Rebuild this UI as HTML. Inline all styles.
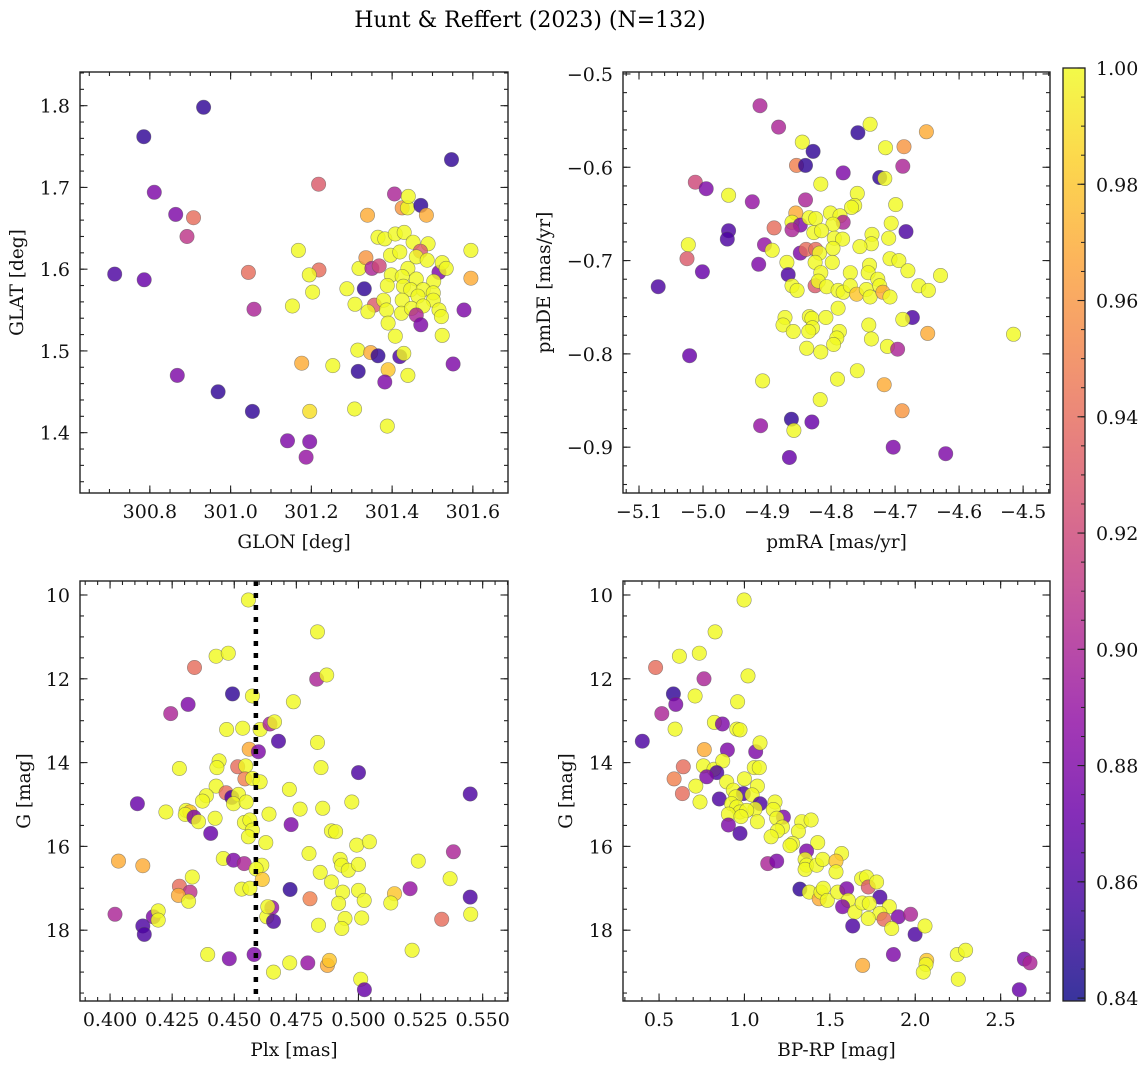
<!DOCTYPE html>
<html><head><meta charset="utf-8"><style>
html,body{margin:0;padding:0;background:#fff;}
svg{display:block;font-family:"DejaVu Serif","Liberation Serif",serif;}
</style></head><body>
<svg id="fig" width="1148" height="1067" viewBox="0 0 1148 1067" xmlns="http://www.w3.org/2000/svg">
<text x="530" y="27" font-size="22" text-anchor="middle" fill="#000">Hunt &amp; Reffert (2023) (N=132)</text>
<g id="panels"></g>
</svg>
<script>
// ---- Panel 1: GLON vs GLAT ----
const glonA = [300.933,300.785,300.811,300.864,300.908,300.892,300.713,300.786,301.044,301.058,300.868,300.969,301.054,301.141,301.196,301.187,301.218,301.219,301.168,301.195,301.203,301.153,301.176,301.196,301.253,301.288,301.307,301.315,301.316,301.308,301.318,301.331,301.339,301.335,301.350,301.368,301.356,301.340,301.365,301.382,301.347,301.365,301.390,301.382,301.388,301.406,301.425,301.438,301.440,301.471,301.485,301.408,301.430,301.452,301.489,301.396,301.419,301.470,301.460,301.439,301.487,301.516,301.524,301.534,301.398,301.425,301.460,301.388,301.428,301.503,301.446,301.477,301.502,301.379,301.425,301.464,301.502,301.386,301.423,301.448,301.477,301.516,301.460,301.471,301.522,301.390,301.408,301.524,301.419,301.429,301.439,301.551,301.578,301.595,301.595,301.547];
const glatA = [1.798,1.762,1.694,1.667,1.663,1.640,1.594,1.587,1.596,1.551,1.470,1.450,1.426,1.390,1.389,1.370,1.704,1.599,1.623,1.593,1.572,1.555,1.485,1.426,1.482,1.576,1.429,1.501,1.475,1.557,1.601,1.576,1.666,1.614,1.601,1.604,1.556,1.548,1.639,1.637,1.498,1.494,1.477,1.462,1.408,1.692,1.675,1.675,1.689,1.678,1.666,1.643,1.645,1.633,1.631,1.617,1.621,1.622,1.615,1.601,1.611,1.596,1.608,1.601,1.593,1.591,1.588,1.580,1.579,1.585,1.575,1.575,1.571,1.562,1.562,1.567,1.562,1.550,1.546,1.552,1.555,1.550,1.544,1.532,1.542,1.534,1.518,1.519,1.493,1.497,1.470,1.484,1.550,1.623,1.589,1.734];
const probA = [0.85,0.85,0.88,0.88,0.94,0.91,0.86,0.87,0.94,0.90,0.88,0.85,0.85,0.88,0.88,0.89,0.93,0.94,1,1,1,1,0.97,0.99,1,1,1,1,0.85,1,1,0.85,0.97,0.96,0.90,0.92,0.93,1,1,1,0.97,0.85,0.98,0.88,1,0.90,0.96,1,1,0.85,0.97,1,1,1,1,1,1,0.93,1,1,1,0.88,1,1,1,1,1,1,1,1,1,1,1,1,1,1,1,1,1,1,1,1,0.90,0.88,1,1,1,1,0.86,1,1,0.88,0.88,1,0.97,0.85];
const ticksAx = [300.8,301.0,301.2,301.4,301.6];
const ticksAy = [1.4,1.5,1.6,1.7,1.8];

// ---- Panel 2: pmRA vs pmDE ----
const pmraB = [-4.911,-4.882,-4.758,-4.739,-4.651,-4.845,-4.828,-4.715,-4.686,-4.854,-4.840,-4.781,-4.724,-4.716,-4.688,-5.012,-4.995,-4.960,-4.923,-4.816,-4.840,-4.759,-4.763,-4.768,-4.699,-4.855,-4.861,-4.848,-4.861,-4.889,-4.834,-4.824,-4.801,-4.786,-4.781,-4.797,-4.827,-4.815,-4.795,-4.782,-4.736,-4.737,-4.706,-4.710,-4.683,-4.960,-4.962,-5.023,-5.025,-5.001,-5.070,-4.904,-4.892,-4.913,-4.869,-4.848,-4.839,-4.824,-4.818,-4.797,-4.755,-4.798,-4.825,-4.816,-4.770,-4.740,-4.742,-4.708,-4.694,-4.680,-4.629,-4.867,-4.861,-4.853,-4.825,-4.820,-4.807,-4.789,-4.781,-4.770,-4.760,-4.745,-4.739,-4.727,-4.724,-4.719,-4.708,-4.663,-4.648,-4.789,-4.673,-4.688,-4.872,-4.875,-4.859,-4.834,-4.830,-4.829,-4.835,-4.808,-4.787,-4.791,-4.796,-4.838,-4.816,-4.741,-4.737,-4.712,-4.696,-4.649,-4.515,-5.021,-4.907,-4.790,-4.759,-4.717,-4.817,-4.689,-4.862,-4.858,-4.830,-4.910,-4.865,-4.703,-4.621];
const pmdeB = [-0.534,-0.557,-0.563,-0.554,-0.562,-0.573,-0.583,-0.579,-0.578,-0.598,-0.598,-0.606,-0.611,-0.612,-0.599,-0.616,-0.623,-0.630,-0.637,-0.618,-0.635,-0.628,-0.641,-0.643,-0.640,-0.649,-0.659,-0.662,-0.667,-0.665,-0.654,-0.655,-0.649,-0.652,-0.659,-0.661,-0.670,-0.668,-0.676,-0.677,-0.672,-0.682,-0.660,-0.676,-0.669,-0.668,-0.677,-0.683,-0.698,-0.712,-0.728,-0.683,-0.689,-0.704,-0.702,-0.692,-0.688,-0.688,-0.692,-0.687,-0.685,-0.702,-0.702,-0.713,-0.713,-0.705,-0.713,-0.698,-0.700,-0.711,-0.716,-0.715,-0.727,-0.732,-0.727,-0.722,-0.728,-0.732,-0.734,-0.727,-0.736,-0.731,-0.739,-0.720,-0.727,-0.734,-0.739,-0.727,-0.732,-0.751,-0.761,-0.763,-0.761,-0.769,-0.776,-0.760,-0.762,-0.772,-0.776,-0.761,-0.776,-0.783,-0.790,-0.794,-0.798,-0.769,-0.784,-0.792,-0.795,-0.778,-0.779,-0.802,-0.829,-0.827,-0.818,-0.833,-0.849,-0.861,-0.870,-0.882,-0.873,-0.877,-0.911,-0.900,-0.907];
const probB = [0.90,0.90,0.85,1,0.97,1,0.85,1,0.96,0.95,0.85,0.88,0.85,1,0.90,0.92,0.88,1,0.89,1,0.90,1,1,1,1,0.97,1,0.88,0.90,0.94,1,1,1,1,0.90,1,1,1,1,1,1,1,1,1,0.86,0.86,0.86,1,0.93,0.87,0.86,0.89,1,0.88,1,0.88,0.94,0.94,1,1,1,1,1,1,1,1,1,1,1,1,1,0.86,1,1,0.93,1,1,1,1,1,0.98,1,1,1,1,0.97,1,1,1,1,0.86,1,1,1,1,1,1,1,1,1,1,1,1,1,1,1,1,1,0.90,0.97,1,0.87,1,1,1,0.97,1,0.96,0.85,1,0.87,0.89,0.87,0.88,0.88];
const ticksBx = [-5.1,-5.0,-4.9,-4.8,-4.7,-4.6,-4.5];
const ticksBy = [-0.9,-0.8,-0.7,-0.6,-0.5];

// ---- Panel 3: Plx vs G ----
const plxC = [0.4557,0.4835,0.4427,0.4476,0.4340,0.4832,0.4872,0.4493,0.4573,0.4314,0.4244,0.4738,0.4469,0.4534,0.4604,0.4644,0.4662,0.4678,0.4835,0.4560,0.4597,0.4439,0.4430,0.4279,0.4514,0.4546,0.4849,0.5000,0.4543,0.4574,0.4604,0.4427,0.4467,0.4490,0.4517,0.4388,0.4372,0.4497,0.4548,0.4722,0.4973,0.5450,0.4110,0.4225,0.4306,0.4322,0.4303,0.4338,0.4356,0.4423,0.4765,0.4856,0.4640,0.4541,0.4563,0.4573,0.4557,0.4729,0.4405,0.4891,0.4908,0.4627,0.4993,0.5044,0.5382,0.4801,0.4456,0.4497,0.4540,0.4611,0.4588,0.4926,0.4932,0.4959,0.5000,0.5241,0.4034,0.4132,0.4331,0.4846,0.4891,0.4613,0.5369,0.4279,0.4322,0.4275,0.4316,0.4530,0.4563,0.4725,0.4805,0.4936,0.4920,0.5000,0.5023,0.5145,0.5130,0.5208,0.5450,0.4020,0.4174,0.4194,0.4194,0.4132,0.4138,0.4631,0.4651,0.4635,0.4658,0.4839,0.4946,0.4933,0.5013,0.5335,0.5452,0.4393,0.4480,0.4580,0.4723,0.4796,0.4875,0.4883,0.4658,0.5009,0.5024,0.5216];
const gC = [10.12,10.88,11.46,11.39,11.73,12.01,11.91,12.36,12.41,12.61,12.83,12.55,13.21,13.18,13.21,13.08,13.03,13.49,13.52,13.68,13.74,13.96,14.12,14.14,14.10,14.08,14.12,14.24,14.39,14.38,14.46,14.56,14.72,14.83,14.76,14.79,14.92,14.98,14.94,14.64,14.94,14.75,14.98,15.18,15.14,15.18,15.24,15.30,15.41,15.33,15.11,15.09,15.23,15.43,15.37,15.61,15.77,15.48,15.69,15.63,15.65,15.91,15.97,15.89,16.13,16.17,16.29,16.33,16.41,16.45,16.54,16.31,16.45,16.57,16.43,16.35,16.35,16.46,16.73,16.62,16.85,16.79,16.77,16.95,17.09,17.17,17.31,17.02,17.00,17.03,17.25,17.09,17.36,17.05,17.29,17.13,17.35,17.01,17.21,17.62,17.68,17.54,17.76,17.90,18.10,17.68,17.46,17.44,17.79,17.88,17.72,17.96,17.71,17.74,17.62,18.58,18.68,18.58,18.78,18.78,18.84,18.72,19.00,19.17,19.42,18.48];
const probC = [1,1,1,1,0.94,0.90,1,0.85,1,0.88,0.90,1,1,1,1,0.90,1,0.86,1,0.97,0.88,1,1,1,0.94,1,1,0.86,0.95,1,1,1,0.94,0.86,1,1,1,1,1,1,1,0.86,0.87,1,1,0.98,1,0.88,1,1,1,1,1,1,1,1,1,0.88,0.87,1,1,1,1,1,0.90,1,1,0.88,0.90,1,1,1,1,1,1,1,0.97,0.97,1,1,1,0.98,1,0.94,0.91,0.97,1,1,1,0.85,0.95,1,1,1,1,0.98,1,0.89,0.86,0.90,0.88,1,1,0.86,0.86,1,0.89,1,0.86,1,1,1,1,0.94,1,1,0.88,0.88,1,0.89,0.97,0.98,1,1,0.87,1];
const ticksCx = [0.400,0.425,0.450,0.475,0.500,0.525,0.550];
const ticksCy = [10,12,14,16,18];
const plxRef = [0.4587];

// ---- Panel 4: BP-RP vs G ----
const bprpD = [0.998,0.828,0.619,0.736,0.480,0.763,1.021,0.584,0.711,0.598,0.516,0.960,0.594,0.824,0.871,0.955,0.974,0.402,0.765,0.900,1.066,1.091,0.642,0.760,0.822,0.873,0.838,1.058,1.087,0.588,0.779,0.896,1.000,0.715,0.637,1.076,0.853,0.740,0.935,0.994,0.949,1.045,1.091,0.925,0.955,0.974,0.906,1.062,1.013,0.980,1.179,1.169,1.228,1.189,1.076,0.906,0.974,1.222,1.193,1.156,1.335,1.390,1.316,1.282,1.267,1.429,1.364,1.569,1.136,1.189,1.355,1.364,1.355,1.423,1.458,1.536,1.536,1.325,1.380,1.438,1.448,1.462,1.485,1.546,1.599,1.608,1.575,1.686,1.715,1.725,1.774,1.793,1.647,1.690,1.731,1.848,1.793,1.725,1.817,1.901,1.973,1.862,1.634,1.999,2.057,1.872,1.692,2.067,2.063,2.047,2.246,2.295,2.252,2.639,2.672,2.609];
const gD = [10.12,10.88,11.46,11.39,11.73,12.00,11.93,12.36,12.41,12.61,12.83,12.55,13.20,13.04,13.08,13.20,13.22,13.49,13.69,13.70,13.74,13.53,14.10,14.08,14.16,13.96,14.24,14.12,14.12,14.39,14.34,14.46,14.39,14.56,14.74,14.56,14.87,14.94,14.66,14.74,14.82,14.77,14.98,14.98,15.06,15.18,15.23,15.11,15.14,15.29,14.94,15.12,15.30,15.33,15.41,15.49,15.69,15.54,15.63,15.77,15.41,15.37,15.64,15.93,15.98,15.91,16.11,16.17,16.41,16.35,16.31,16.45,16.55,16.45,16.31,16.35,16.61,17.02,17.09,17.25,17.09,17.00,17.29,17.09,17.01,17.29,17.44,16.77,16.73,16.97,16.85,17.21,17.57,17.35,17.36,17.44,17.60,17.72,17.74,17.68,17.62,17.96,17.90,18.10,17.90,18.58,18.84,18.72,18.82,19.00,18.58,18.48,19.17,18.69,18.78,19.42];
const probD = [1,1,1,1,0.94,0.90,1,0.85,1,0.88,0.90,1,1,1,0.88,1,1,0.86,0.97,0.88,0.88,1,0.94,1,1,1,0.86,1,1,0.95,0.88,1,1,1,0.94,1,0.86,1,1,0.86,1,1,0.86,1,1,1,1,1,1,1,1,1,0.88,1,1,0.88,0.86,1,1,1,1,1,1,1,1,1,0.88,1,0.90,0.88,1,1,1,1,1,0.98,1,0.85,1,0.97,1,1,1,1,0.88,1,0.88,1,1,0.93,1,0.86,1,1,1,1,1,1,0.94,0.88,0.90,1,0.86,0.86,1,0.88,0.97,0.98,1,1,1,1,1,0.88,0.90,0.87];
const ticksDx = [0.5,1.0,1.5,2.0,2.5];
const ticksDy = [10,12,14,16,18];

// ---- Colorbar ----
const cbTicks = [0.84,0.86,0.88,0.90,0.92,0.94,0.96,0.98,1.00];
const cbRange = [0.8395,1.0];

const NS = 'http://www.w3.org/2000/svg';
const root = document.getElementById('panels');
function mk(tag, attrs, parent){
  const e = document.createElementNS(NS, tag);
  for (const k in attrs) e.setAttribute(k, attrs[k]);
  (parent||root).appendChild(e);
  return e;
}
const plasmaStops = ['#0d0887','#41049d','#6a00a8','#8f0da4','#b12a90','#cc4778','#e16462','#f2844b','#fca636','#fcce25','#f0f921'];
function hex(h){return [parseInt(h.substr(1,2),16),parseInt(h.substr(3,2),16),parseInt(h.substr(5,2),16)];}
function plasma(t){
  t = Math.max(0, Math.min(1, t));
  const s = t*10, i = Math.min(9, Math.floor(s)), f = s - i;
  const a = hex(plasmaStops[i]), b = hex(plasmaStops[i+1]);
  return 'rgb(' + a.map((v,k)=>Math.round(v + (b[k]-v)*f)).join(',') + ')';
}
function cmap(p){ return plasma((p - cbRange[0])/(cbRange[1]-cbRange[0])); }
function fmt(v, d){ const s = Math.abs(v).toFixed(d); return (v < -1e-9 ? '\u2212' : '') + s; }

function panel(cfg){
  const g = mk('g', {});
  
  
  const {x0,x1,y0,y1,xd,yd} = cfg;
  const sx = v => x0 + (v - xd[0])/(xd[1]-xd[0])*(x1-x0);
  const sy = cfg.invert ? (v => y0 + (v - yd[0])/(yd[1]-yd[0])*(y1-y0))
                        : (v => y1 - (v - yd[0])/(yd[1]-yd[0])*(y1-y0));
  const pg = mk('g', {}, g);
  
  
  for (let i = 0; i < cfg.xs.length; i++){
    const c = mk('circle', {cx: sx(cfg.xs[i]).toFixed(1), cy: sy(cfg.ys[i]).toFixed(1), r: 7.2,
      fill: cmap(cfg.ps[i]), 'fill-opacity': 0.82, stroke: '#555', 'stroke-opacity': 0.6, 'stroke-width': 0.6}, pg);
    
    
  }
  if (cfg.vline){
    const l = mk('line', {x1: sx(cfg.vline[0]), x2: sx(cfg.vline[0]), y1: y0, y2: y1, stroke: '#000', 'stroke-width': 4.5, 'stroke-dasharray': '5 7'}, g);
    
    
  }
  const fr = mk('rect', {x: x0, y: y0, width: x1-x0, height: y1-y0, fill: 'none', stroke: '#222', 'stroke-width': 1.4}, g);
  
  
  const tg = mk('g', {stroke: '#222', 'stroke-width': 1.1}, g);
  
  
  const mx = cfg.xMinor, my = cfg.yMinor;
  const xs0 = Math.ceil(xd[0]/mx - 1e-6), xs1 = Math.floor(xd[1]/mx + 1e-6);
  for (let k = xs0; k <= xs1; k++){
    const X = sx(k*mx);
    mk('line', {x1: X, x2: X, y1: y1, y2: y1-4}, tg);
    mk('line', {x1: X, x2: X, y1: y0, y2: y0+4}, tg);
  }
  const lo = Math.min(yd[0], yd[1]), hi = Math.max(yd[0], yd[1]);
  for (let k = Math.ceil(lo/my - 1e-6); k <= Math.floor(hi/my + 1e-6); k++){
    const Y = sy(k*my);
    mk('line', {x1: x0, x2: x0+4, y1: Y, y2: Y}, tg);
    mk('line', {x1: x1, x2: x1-4, y1: Y, y2: Y}, tg);
  }
  cfg.xt.forEach(v => {
    const X = sx(v);
    mk('line', {x1: X, x2: X, y1: y1, y2: y1-7.5}, tg);
    mk('line', {x1: X, x2: X, y1: y0, y2: y0+7.5}, tg);
    const t = mk('text', {x: X, y: y1 + 25, 'font-size': 19, 'text-anchor': 'middle', fill: '#111'}, g);
    t.textContent = fmt(v, cfg.xdec);
    
    
  });
  cfg.yt.forEach(v => {
    const Y = sy(v);
    mk('line', {x1: x0, x2: x0+7.5, y1: Y, y2: Y}, tg);
    mk('line', {x1: x1, x2: x1-7.5, y1: Y, y2: Y}, tg);
    const t = mk('text', {x: x0 - 10, y: Y + 7, 'font-size': 19, 'text-anchor': 'end', fill: '#111'}, g);
    t.textContent = fmt(v, cfg.ydec);
    
    
  });
  const xl = mk('text', {x: (x0+x1)/2, y: y1 + 55, 'font-size': 18.5, 'text-anchor': 'middle', fill: '#111'}, g);
  xl.textContent = cfg.xlabel;
  
  
  const yl = mk('text', {x: 0, y: 0, 'font-size': 18.5, 'text-anchor': 'middle', fill: '#111',
    transform: 'translate(' + cfg.ylx + ',' + ((y0+y1)/2) + ') rotate(-90)'}, g);
  yl.textContent = cfg.ylabel;
  
  
}

panel({name:'glon-glat-panel', x0:80,x1:508,y0:72,y1:493, xd:[300.627,301.687], yd:[1.3262,1.8412],
  xs:glonA, ys:glatA, ps:probA, xt:ticksAx, yt:ticksAy, xMinor:0.05, yMinor:0.02, xdec:1, ydec:1,
  xlabel:'GLON [deg]', ylabel:'GLAT [deg]', ylx:23});
panel({name:'pm-panel', x0:623,x1:1050,y0:72,y1:493, xd:[-5.125,-4.458], yd:[-0.9491,-0.4979],
  xs:pmraB, ys:pmdeB, ps:probB, xt:ticksBx, yt:ticksBy, xMinor:0.02, yMinor:0.02, xdec:1, ydec:1,
  xlabel:'pmRA [mas/yr]', ylabel:'pmDE [mas/yr]', ylx:550});
panel({name:'plx-g-panel', x0:80,x1:508,y0:581,y1:1001, xd:[0.3879,0.5602], yd:[9.666,19.69], invert:true,
  xs:plxC, ys:gC, ps:probC, xt:ticksCx, yt:ticksCy, xMinor:0.005, yMinor:0.5, xdec:3, ydec:0,
  xlabel:'Plx [mas]', ylabel:'G [mag]', ylx:30, vline:plxRef});
panel({name:'cmd-panel', x0:623,x1:1050,y0:581,y1:1001, xd:[0.289,2.789], yd:[9.666,19.69], invert:true,
  xs:bprpD, ys:gD, ps:probD, xt:ticksDx, yt:ticksDy, xMinor:0.1, yMinor:0.5, xdec:1, ydec:0,
  xlabel:'BP-RP [mag]', ylabel:'G [mag]', ylx:572});

(function(){
  const cx0 = 1063, cx1 = 1085, cy0 = 68, cy1 = 1001;
  const cg = mk('g', {});
  
  
  const defs = mk('defs', {}, cg);
  const grad = mk('linearGradient', {id:'cbg', x1:0, y1:1, x2:0, y2:0}, defs);
  for (let i = 0; i <= 20; i++){
    mk('stop', {offset: (i/20), 'stop-color': plasma(i/20)}, grad);
  }
  const r = mk('rect', {x: cx0, y: cy0, width: cx1-cx0, height: cy1-cy0, fill: 'url(#cbg)', 'fill-opacity': 0.82}, cg);
  
  
  const fr = mk('rect', {x: cx0, y: cy0, width: cx1-cx0, height: cy1-cy0, fill: 'none', stroke: '#222', 'stroke-width': 1.3}, cg);
  
  
  const sy = v => cy1 - (v - cbRange[0])/(cbRange[1]-cbRange[0])*(cy1-cy0);
  for (let k = Math.ceil(cbRange[0]/0.005); k <= Math.floor(cbRange[1]/0.005 + 1e-6); k++){
    const Y = sy(k*0.005);
    mk('line', {x1: cx1, x2: cx1-4, y1: Y, y2: Y, stroke: '#222', 'stroke-width': 1}, cg);
  }
  cbTicks.forEach(v => {
    const Y = sy(v);
    mk('line', {x1: cx1, x2: cx1-7.5, y1: Y, y2: Y, stroke: '#222', 'stroke-width': 1.1}, cg);
    const t = mk('text', {x: cx1 + 11, y: Y + 7, 'font-size': 19, fill: '#111'}, cg);
    t.textContent = v.toFixed(2);
    
    
  });
})();
</script>
</body></html>
